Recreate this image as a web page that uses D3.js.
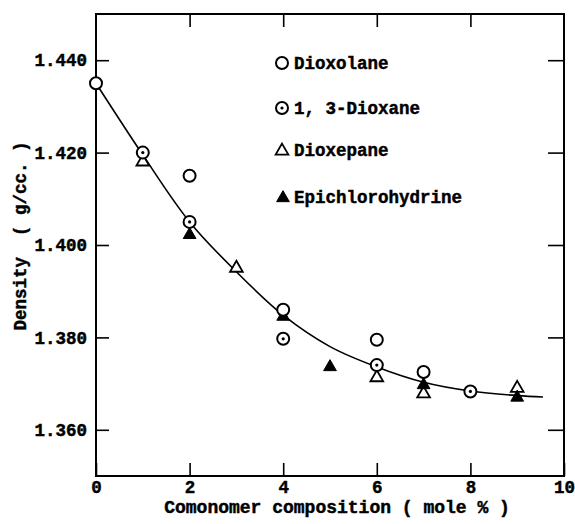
<!DOCTYPE html>
<html>
<head>
<meta charset="utf-8">
<script src="https://cdn.jsdelivr.net/npm/d3@7"></script>
<style>
  body { margin: 0; background: #fff; }
  text { font-family: "Liberation Mono", "DejaVu Sans Mono", monospace; font-weight: bold; fill: #000;
    stroke: #000; stroke-width: 0.45px; white-space: pre; }
</style>
</head>
<body>
<div id="chart"></div>
<script>
// measured points, [mole %, density]
var dioxolane = [[0, 1.435], [2, 1.415], [4, 1.386], [6, 1.3795], [7, 1.3725]];
var dioxane = [[1, 1.420], [2, 1.405], [4, 1.3797], [6, 1.374], [8, 1.3683]];
var dioxepane = [[1, 1.418], [3, 1.395], [6, 1.3713], [7, 1.3678], [9, 1.369]];
var epichloro = [[2, 1.4022], [4, 1.3845], [5, 1.3736], [7, 1.3697], [9, 1.367]];

// smooth curve drawn through the data
var fitCurve = [[0, 1.435], [1, 1.4195], [2, 1.405], [3, 1.3942], [4, 1.3848], [5, 1.3780],
  [6, 1.3736], [7, 1.3703], [8, 1.3684], [9, 1.3674], [9.55, 1.3671]];

var xTicks = [0, 2, 4, 6, 8, 10];
var yTicks = [1.360, 1.380, 1.400, 1.420, 1.440];

var legendNames = ["Dioxolane", "1, 3-Dioxane", "Dioxepane", "Epichlorohydrine"];

var W = 575, H = 524;
var margin = { top: 14, right: 11, bottom: 48, left: 96 };
var width = W - margin.left - margin.right,
  height = H - margin.top - margin.bottom;

var svg = d3.select("#chart")
  .append("svg")
  .attr("width", W)
  .attr("height", H)
  .append("g")
  .attr("transform", "translate(" + margin.left + "," + margin.top + ")");

var x = d3.scaleLinear().domain([0, 10]).range([0, width]);
var y = d3.scaleLinear().domain([1.35, 1.45]).range([height, 0]);

// bottom axis, ticks inward
var xAxisBottom = svg.append("g")
  .attr("transform", "translate(0," + height + ")")
  .call(d3.axisBottom(x).tickValues(xTicks).tickSizeInner(-13).tickSizeOuter(0).tickPadding(5)
    .tickFormat(d3.format("d")));
xAxisBottom.select(".domain").remove();
xAxisBottom.selectAll("text").style("font-size", "17.5px");

// top axis, ticks only
var xAxisTop = svg.append("g")
  .call(d3.axisTop(x).tickValues([2, 4, 6, 8]).tickSizeInner(-13).tickSizeOuter(0).tickFormat(""));
xAxisTop.select(".domain").remove();

// left axis
var yAxisLeft = svg.append("g")
  .call(d3.axisLeft(y).tickValues(yTicks).tickSizeInner(-13).tickSizeOuter(0).tickPadding(9)
    .tickFormat(d3.format(".3f")));
yAxisLeft.select(".domain").remove();
yAxisLeft.selectAll("text").style("font-size", "17.5px");

// right axis, ticks only
var yAxisRight = svg.append("g")
  .attr("transform", "translate(" + width + ",0)")
  .call(d3.axisRight(y).tickValues(yTicks).tickSizeInner(-16).tickSizeOuter(0).tickFormat(""));
yAxisRight.select(".domain").remove();

svg.selectAll(".tick line").attr("stroke", "#000").attr("stroke-width", 1.6);

// frame
svg.append("rect")
  .attr("x", 0).attr("y", 0)
  .attr("width", width).attr("height", height)
  .attr("fill", "none")
  .attr("stroke", "#000")
  .attr("stroke-width", 2);

// fitted curve
var line = d3.line()
  .x(function(d) { return x(d[0]); })
  .y(function(d) { return y(d[1]); })
  .curve(d3.curveCatmullRom.alpha(0.5));

svg.append("path")
  .datum(fitCurve)
  .attr("d", line)
  .attr("fill", "none")
  .attr("stroke", "#000")
  .attr("stroke-width", 1.6);

// marker helpers
var tri = d3.symbol().type(d3.symbolTriangle).size(70);

function drawOpenCircle(g, px, py) {
  g.append("circle").attr("cx", px).attr("cy", py).attr("r", 6)
    .attr("fill", "#fff").attr("stroke", "#000").attr("stroke-width", 2);
}
function drawDotCircle(g, px, py) {
  drawOpenCircle(g, px, py);
  g.append("circle").attr("cx", px).attr("cy", py).attr("r", 1.6).attr("fill", "#000");
}
function drawTriangle(g, px, py, filled) {
  g.append("path").attr("d", tri)
    .attr("transform", "translate(" + px + "," + py + ")")
    .attr("fill", filled ? "#000" : "#fff")
    .attr("stroke", "#000")
    .attr("stroke-width", filled ? 1 : 1.8);
}

var marks = svg.append("g");
dioxepane.forEach(function(d) { drawTriangle(marks, x(d[0]), y(d[1]), false); });
epichloro.forEach(function(d) { drawTriangle(marks, x(d[0]), y(d[1]), true); });
dioxolane.forEach(function(d) { drawOpenCircle(marks, x(d[0]), y(d[1])); });
dioxane.forEach(function(d) { drawDotCircle(marks, x(d[0]), y(d[1])); });

// legend
var legend = svg.append("g").attr("transform", "translate(186,49)");
var legendY = [0, 45, 87, 134];
legendNames.forEach(function(name, i) {
  var ly = legendY[i];
  if (i === 0) drawOpenCircle(legend, 0, ly);
  if (i === 1) drawDotCircle(legend, 0, ly);
  if (i === 2) drawTriangle(legend, 0, ly + 1, false);
  if (i === 3) drawTriangle(legend, 1, ly + 1, true);
  legend.append("text")
    .attr("x", 12)
    .attr("y", ly)
    .attr("dy", "0.35em")
    .style("font-size", "17.5px")
    .text(name);
});

// axis titles
svg.append("text")
  .attr("x", width / 2 + 7)
  .attr("y", height + 37)
  .attr("text-anchor", "middle")
  .style("font-size", "18px")
  .text("Comonomer composition ( mole % )");

svg.append("text")
  .attr("transform", "translate(" + (-70) + "," + (222) + ") rotate(-90)")
  .attr("text-anchor", "middle")
  .style("font-size", "17.5px")
  .text("Density  ( g/cc. )");
</script>
</body>
</html>
